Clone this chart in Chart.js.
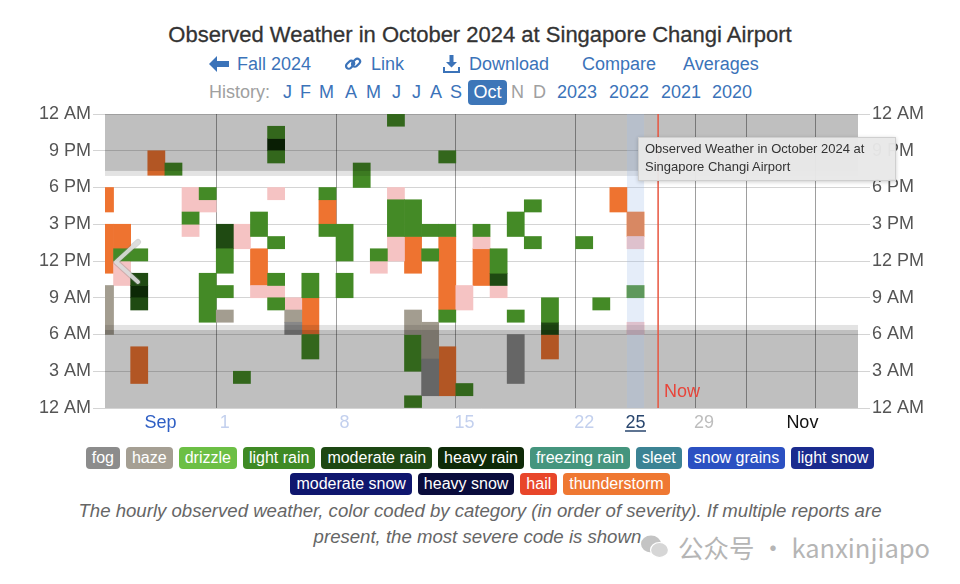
<!DOCTYPE html>
<html>
<head>
<meta charset="utf-8">
<script src="https://cdn.jsdelivr.net/npm/chart.js@4.4.1/dist/chart.umd.min.js"></script>
<style>
  body { margin:0; width:960px; height:584px; background:#fff; position:relative; overflow:hidden;
         font-family:"Liberation Sans", Arial, sans-serif; }
  .abs { position:absolute; white-space:nowrap; }
  #title { top:23px; left:0; width:960px; text-align:center; font-size:22px; line-height:24px; color:#333;
           -webkit-text-stroke:0.3px #333; }
  .nav { top:53px; font-size:18px; line-height:22px; color:#3b73b9; }
  .hist { top:81px; font-size:18px; line-height:22px; color:#3b73b9; }
  .gray { color:#a0a0a0; }
  #octBox { top:80px; left:468px; width:39px; height:25px; background:#3d76b8; border-radius:4px;
            color:#fff; font-size:18px; line-height:25px; text-align:center; }
  #chartWrap { position:absolute; left:0; top:100px; width:960px; height:340px; }
  .legendRow { position:absolute; left:0; width:960px; text-align:center; font-size:16px; }
  .badge { display:inline-block; color:#fff; border-radius:4px; padding:0 6px; height:22px; line-height:22px;
           margin:0 3px; }
  #caption { position:absolute; left:0; top:498px; width:960px; text-align:center; font-style:italic;
             font-size:18.6px; line-height:26px; color:#666; }
  #tip { position:absolute; left:638px; top:137px; width:244px; height:38px; background:rgba(232,232,232,0.96);
         border:1px solid #cfcfcf; box-shadow:0 1px 4px rgba(0,0,0,0.2); font-size:13px; line-height:18px;
         color:#333; padding:2px 6px; }
  #mark { position:absolute; left:678px; top:528px; font-size:25.5px; color:#b5b5b5; font-family:"Noto Sans CJK SC","Liberation Sans",sans-serif; }
</style>
</head>
<body>
<div id="title" class="abs">Observed Weather in October 2024 at Singapore Changi Airport</div>

<svg class="abs" style="left:209px;top:56px" width="20" height="16" viewBox="0 0 20 16"><path d="M0 8 L8 0 L8 5 L20 5 L20 11 L8 11 L8 16 Z" fill="#3b73b9"/></svg>
<span class="abs nav" style="left:237px">Fall 2024</span>
<svg class="abs" style="left:344px;top:55px" width="18" height="18" viewBox="0 0 18 18"><g fill="none" stroke="#3b73b9" stroke-width="2.2"><rect x="1.5" y="7" width="9" height="5.5" rx="2.7" transform="rotate(-45 6 9.7)"/><rect x="7.5" y="5" width="9" height="5.5" rx="2.7" transform="rotate(-45 12 7.7)"/></g></svg>
<span class="abs nav" style="left:371px">Link</span>
<svg class="abs" style="left:443px;top:55px" width="17" height="18" viewBox="0 0 17 18"><path d="M6.5 0 H10.5 V7 H14 L8.5 12.5 L3 7 H6.5 Z" fill="#3b73b9"/><path d="M1 12 V17 H16 V12" fill="none" stroke="#3b73b9" stroke-width="2"/></svg>
<span class="abs nav" style="left:469px">Download</span>
<span class="abs nav" style="left:582px">Compare</span>
<span class="abs nav" style="left:683px">Averages</span>

<span class="abs hist gray" style="left:209px">History:</span>
<span class="abs hist" style="left:283px">J</span>
<span class="abs hist" style="left:300px">F</span>
<span class="abs hist" style="left:319px">M</span>
<span class="abs hist" style="left:345px">A</span>
<span class="abs hist" style="left:366px">M</span>
<span class="abs hist" style="left:392px">J</span>
<span class="abs hist" style="left:412px">J</span>
<span class="abs hist" style="left:430px">A</span>
<span class="abs hist" style="left:450px">S</span>
<div id="octBox" class="abs">Oct</div>
<span class="abs hist gray" style="left:511px">N</span>
<span class="abs hist gray" style="left:533px">D</span>
<span class="abs hist" style="left:557px">2023</span>
<span class="abs hist" style="left:609px">2022</span>
<span class="abs hist" style="left:661px">2021</span>
<span class="abs hist" style="left:712px">2020</span>

<div id="chartWrap"><canvas id="wx" width="960" height="340"></canvas></div>

<svg class="abs" style="left:110px;top:238px" width="34" height="48" viewBox="0 0 34 48">
  <path d="M28 4 L6 24 L28 44" fill="none" stroke="rgba(120,120,120,0.3)" stroke-width="6" stroke-linecap="round" stroke-linejoin="round"/>
  <path d="M28 4 L6 24 L28 44" fill="none" stroke="rgba(222,222,222,0.9)" stroke-width="4" stroke-linecap="round" stroke-linejoin="round"/>
</svg>

<div id="tip">Observed Weather in October 2024 at<br>Singapore Changi Airport</div>

<div id="legend1" class="legendRow" style="top:447px"></div>
<div id="legend2" class="legendRow" style="top:473px"></div>

<div id="caption">The hourly observed weather, color coded by category (in order of severity). If multiple reports are<br>present, the most severe code is shown.</div>

<svg class="abs" style="left:640px;top:534px" width="30" height="26" viewBox="0 0 30 26">
  <ellipse cx="11" cy="10" rx="10" ry="8.5" fill="#c4c4c4"/>
  <ellipse cx="19.5" cy="16" rx="9" ry="7.5" fill="#d6d6d6" stroke="#fff" stroke-width="1.2"/>
</svg>
<div id="mark">公众号 · kanxinjiapo</div>

<script>
// hourly weather runs: [day, fromHour, toHour)
const thunderstorm = [
  ['Sep 24', 16, 18], ['Sep 24', 11, 15], ['Sep 25', 13, 15], ['Sep 26', 2, 5],
  ['Sep 27', 19, 21], ['Oct 3', 10, 13], ['Oct 6', 6, 9], ['Oct 7', 15, 17],
  ['Oct 12', 11, 14], ['Oct 14', 8, 14], ['Oct 14', 1, 5], ['Oct 16', 10, 13],
  ['Oct 20', 4, 6], ['Oct 24', 16, 18], ['Oct 25', 14, 16]
];
const lightRain = [
  ['Sep 25', 12, 13], ['Sep 26', 12, 13], ['Sep 28', 19, 20], ['Sep 29', 15, 16],
  ['Sep 30', 17, 18], ['Sep 30', 7, 11], ['Oct 1', 11, 13], ['Oct 1', 9, 10],
  ['Oct 2', 2, 3], ['Oct 3', 14, 16], ['Oct 4', 22, 23], ['Oct 4', 20, 21],
  ['Oct 4', 13, 14], ['Oct 4', 10, 11], ['Oct 4', 8, 9], ['Oct 6', 9, 11],
  ['Oct 6', 4, 6], ['Oct 7', 17, 18], ['Oct 7', 14, 15], ['Oct 8', 12, 15],
  ['Oct 8', 9, 11], ['Oct 9', 18, 20], ['Oct 10', 12, 13], ['Oct 11', 23, 24],
  ['Oct 11', 14, 17], ['Oct 12', 14, 17], ['Oct 12', 3, 6], ['Oct 12', 0, 1],
  ['Oct 13', 14, 15], ['Oct 13', 12, 13], ['Oct 14', 20, 21], ['Oct 14', 14, 15],
  ['Oct 14', 7, 8], ['Oct 15', 1, 2], ['Oct 16', 14, 15], ['Oct 17', 11, 13],
  ['Oct 18', 14, 16], ['Oct 18', 7, 8], ['Oct 19', 16, 17], ['Oct 19', 13, 14],
  ['Oct 20', 7, 9], ['Oct 22', 13, 14], ['Oct 23', 8, 9], ['Oct 25', 9, 10]
];
const moderateRain = [
  ['Sep 26', 10, 11], ['Sep 26', 8, 9], ['Oct 1', 13, 15], ['Oct 17', 10, 11], ['Oct 20', 6, 7]
];
const heavyRain = [['Sep 26', 9, 10], ['Oct 4', 21, 22]];
const haze = [
  ['Sep 24', 6, 10], ['Oct 1', 7, 8], ['Oct 5', 7, 8], ['Oct 12', 6, 8], ['Oct 13', 4, 7]
];
const fog = [['Oct 5', 6, 7], ['Oct 13', 1, 4], ['Oct 18', 2, 6]];
const stormNearby = [
  ['Sep 25', 10, 12], ['Sep 29', 16, 18], ['Sep 29', 14, 15], ['Sep 30', 16, 17],
  ['Oct 2', 13, 15], ['Oct 3', 9, 10], ['Oct 4', 17, 18], ['Oct 4', 9, 10],
  ['Oct 5', 8, 9], ['Oct 10', 11, 12], ['Oct 11', 17, 18], ['Oct 11', 12, 14],
  ['Oct 15', 8, 10], ['Oct 16', 13, 14], ['Oct 17', 9, 10], ['Oct 25', 13, 14], ['Oct 25', 6, 7]
];

// axis stuff (day numbers: Oct 1 = 1, Sep 30 = 0)
const axisStart = -5.5;   // noon Sep 24
const axisEnd = 38.5;     // noon Nov 7
const gridDays = [1, 8, 15, 22, 29, 32, 36];
const xLabels = ['Sep', '1', '8', '15', '22', '25', '29', 'Nov'];
const xLabelPos = [-2.25, 1.5, 8.5, 15.5, 22.5, 25.5, 29.5, 35.25];
const xLabelColors = ['#2f5fc4', '#c3d0ee', '#c3d0ee', '#c3d0ee', '#c3d0ee', '#29466e', '#bdbdbd', '#111'];
const hourLabels = ['12 AM', '3 AM', '6 AM', '9 AM', '12 PM', '3 PM', '6 PM', '9 PM', '12 AM'];
const nightHours = [[0, 6.37], [19.35, 24]];
const twilightHours = [[6.37, 6.78], [18.94, 19.35]];
const todayDay = 25;
const nowDay = 26.82;

// legend
const legendRow1 = [['fog', '#8c8c8c'], ['haze', '#a59f93'], ['drizzle', '#6cbf45'], ['light rain', '#3f8a25'],
  ['moderate rain', '#1d4713'], ['heavy rain', '#0e2a08'], ['freezing rain', '#45957e'], ['sleet', '#3c8394'],
  ['snow grains', '#2b50c2'], ['light snow', '#1a2b8e']];
const legendRow2 = [['moderate snow', '#0f166e'], ['heavy snow', '#0a0c3c'], ['hail', '#e8462a'], ['thunderstorm', '#ef7832']];

function fillLegend(id, items) {
  document.getElementById(id).innerHTML = items.map(i =>
    `<span class="badge" style="background:${i[1]}">${i[0]}</span>`).join('');
}
fillLegend('legend1', legendRow1);
fillLegend('legend2', legendRow2);

function dayValue(s) {
  const [m, d] = s.split(' ');
  return +d + (m === 'Sep' ? -30 : 0);
}
function toBars(runs) {
  return runs.map(r => ({ x: dayValue(r[0]) + 0.5, y: [r[1], r[2]] }));
}
function barSet(label, runs, color) {
  return { label, data: toBars(runs), backgroundColor: color, borderWidth: 0,
    barPercentage: 1, categoryPercentage: 1, grouped: false, clip: 0 };
}

const shadePlugin = {
  id: 'shade',
  afterDatasetsDraw(chart) {
    const { ctx, chartArea: a, scales: { x, y } } = chart;
    ctx.save();
    const band = (h0, h1, col) => {
      const top = y.getPixelForValue(h1), bot = y.getPixelForValue(h0);
      ctx.fillStyle = col;
      ctx.fillRect(a.left, top, a.right - a.left, bot - top);
    };
    nightHours.forEach(h => band(h[0], h[1], 'rgba(0,0,0,0.25)'));
    twilightHours.forEach(h => band(h[0], h[1], 'rgba(0,0,0,0.11)'));
    // today column
    const tx0 = x.getPixelForValue(todayDay), tx1 = x.getPixelForValue(todayDay + 1);
    ctx.fillStyle = 'rgba(160,190,235,0.28)';
    ctx.fillRect(tx0, a.top, tx1 - tx0, a.bottom - a.top);
    // now line
    const nx = x.getPixelForValue(nowDay);
    ctx.strokeStyle = '#e8553f';
    ctx.lineWidth = 1.5;
    ctx.beginPath(); ctx.moveTo(nx, a.top); ctx.lineTo(nx, a.bottom); ctx.stroke();
    ctx.fillStyle = '#e8453a';
    ctx.font = '18px "Liberation Sans", Arial, sans-serif';
    ctx.textBaseline = 'middle';
    ctx.fillText('Now', nx + 6, y.getPixelForValue(1.3));
    ctx.restore();
  },
  afterDraw(chart) {
    // underline today's label
    const { ctx, scales: { xl } } = chart;
    const cx = xl.getPixelForValue(todayDay + 0.5);
    const ly = chart.chartArea.bottom + 23;
    ctx.save();
    ctx.strokeStyle = '#29466e';
    ctx.lineWidth = 1.5;
    ctx.beginPath(); ctx.moveTo(cx - 10.5, ly); ctx.lineTo(cx + 10.5, ly); ctx.stroke();
    ctx.restore();
  }
};

Chart.defaults.font.family = '"Liberation Sans", Arial, sans-serif';

const yTicks = {
  stepSize: 3, color: '#555', padding: 2, font: { size: 18 },
  callback: v => hourLabels[v / 3]
};

new Chart(document.getElementById('wx'), {
  type: 'bar',
  data: {
    datasets: [
      barSet('fog', fog, '#888888'),
      barSet('haze', haze, '#a39d90'),
      barSet('light rain', lightRain, '#448a26'),
      barSet('moderate rain', moderateRain, '#1f4a12'),
      barSet('heavy rain', heavyRain, '#0c2806'),
      barSet('thunderstorm nearby', stormNearby, '#f5c3c3'),
      barSet('thunderstorm', thunderstorm, '#ee7330')
    ]
  },
  options: {
    responsive: false,
    animation: false,
    devicePixelRatio: 1,
    layout: { padding: { top: 14 } },
    plugins: { legend: { display: false }, tooltip: { enabled: false } },
    scales: {
      x: {
        type: 'linear', position: 'bottom', min: axisStart, max: axisEnd, bounds: 'data', offset: false, z: 1,
        afterBuildTicks: s => { s.ticks = gridDays.map(v => ({ value: v })); },
        afterFit: s => { s.height = 0; },
        ticks: { display: false },
        grid: { color: 'rgba(0,0,0,0.38)', drawTicks: false, offset: false },
        border: { display: false }
      },
      xl: {
        type: 'linear', position: 'bottom', min: axisStart, max: axisEnd, bounds: 'data', offset: false,
        afterBuildTicks: s => { s.ticks = xLabelPos.map(v => ({ value: v })); },
        afterFit: s => { s.height = 32; },
        ticks: {
          autoSkip: false, maxRotation: 0, padding: 4, font: { size: 18 },
          color: c => xLabelColors[c.index],
          callback: (v, i) => xLabels[i]
        },
        grid: { display: false, drawTicks: false },
        border: { display: false }
      },
      y: {
        type: 'linear', position: 'left', min: 0, max: 24, z: 1,
        afterFit: s => { s.width = 105; },
        ticks: yTicks,
        grid: { color: 'rgba(0,0,0,0.17)', tickLength: 12 },
        border: { display: false }
      },
      y2: {
        type: 'linear', position: 'right', min: 0, max: 24, z: 1,
        afterFit: s => { s.width = 102; },
        ticks: yTicks,
        grid: { color: 'rgba(0,0,0,0.17)', tickLength: 12, drawOnChartArea: false },
        border: { display: false }
      }
    }
  },
  plugins: [shadePlugin]
});
</script>
</body>
</html>
